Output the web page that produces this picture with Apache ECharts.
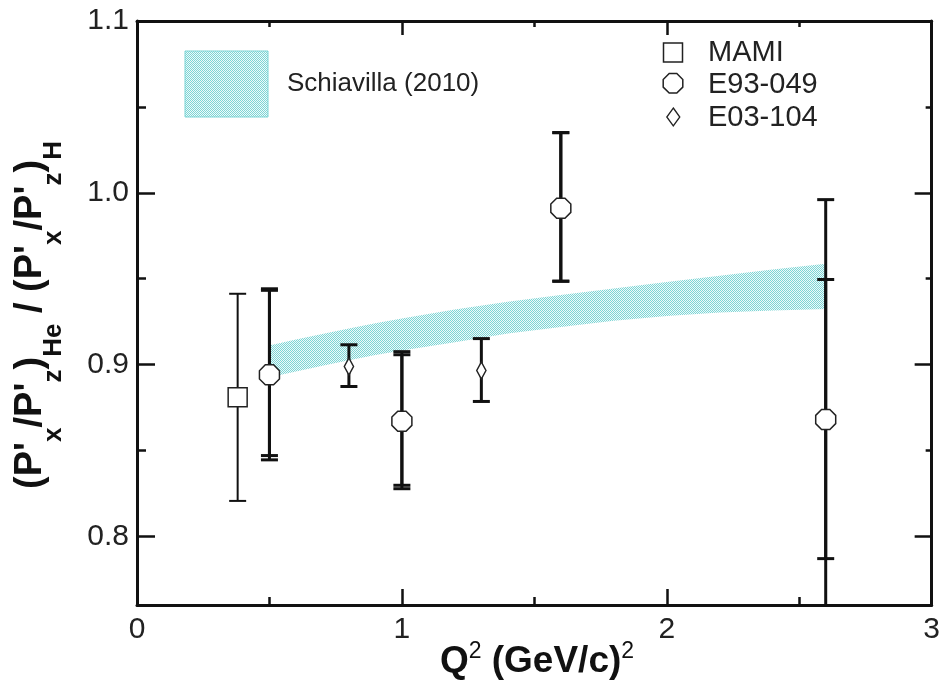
<!DOCTYPE html>
<html>
<head>
<meta charset="utf-8">
<script src="https://cdn.jsdelivr.net/npm/echarts@6/dist/echarts.min.js"></script>
<style>
  html, body { margin: 0; padding: 0; background: #fff; }
  #chart { width: 943px; height: 685px; }
</style>
</head>
<body>
<div id="chart"></div>
<script>
// Polarization-transfer ratio (P'x/P'z)He / (P'x/P'z)H versus Q^2 in (GeV/c)^2

// MAMI
const mamiQ2 = [0.38];
const mamiR = [0.881];
const mamiLo = [0.8206];
const mamiHi = [0.9412];

// E93-049: statistical and total uncertainty bounds
const e93Q2 = [0.5, 1.0, 1.6, 2.6];
const e93R = [0.894, 0.867, 0.991, 0.868];
const e93StatLo = [0.847, 0.8297, 0.9485, 0.787];
const e93StatHi = [0.9432, 0.9057, 1.035, 0.9495];
const e93TotLo = [0.8445, 0.8277, 0.9485, 0.740];
const e93TotHi = [0.9441, 0.9075, 1.035, 0.996];

// E03-104
const e03Q2 = [0.8, 1.3];
const e03R = [0.8988, 0.8965];
const e03Lo = [0.8872, 0.8785];
const e03Hi = [0.9115, 0.9151];

// Schiavilla (2010) calculation band
const bandQ2 = [0.5, 0.6, 0.7, 0.8, 0.9, 1.0, 1.2, 1.4, 1.6, 1.8, 2.0, 2.2, 2.4, 2.6];
const bandLo = [0.8926, 0.896, 0.8993, 0.9025, 0.9055, 0.9082, 0.913, 0.918, 0.9218, 0.9255, 0.9282, 0.9303, 0.9315, 0.9324];
const bandHi = [0.9111, 0.9145, 0.9178, 0.921, 0.924, 0.9268, 0.932, 0.9365, 0.9405, 0.9443, 0.948, 0.9517, 0.9553, 0.9587];

// Axis ticks
const xTicks = ['0', '1', '2', '3'];
const yMajor = [0.8, 0.9, 1.0, 1.1];
const yMinor = [0.85, 0.95, 1.05];

const FONT = '"Liberation Sans", Arial, Helvetica, sans-serif';
const INK = '#111';

// dithered cyan texture used for the theory band
const tex = document.createElement('canvas');
tex.width = 2; tex.height = 2;
const tg = tex.getContext('2d');
tg.fillStyle = '#eefafa'; tg.fillRect(0, 0, 2, 2);
tg.fillStyle = '#7dd5d5'; tg.fillRect(0, 0, 1, 1); tg.fillRect(1, 1, 1, 1);
const bandFill = { image: tex, repeat: 'repeat' };

const OCTAGON = 'path://M30.9,3.8 L69.1,3.8 L96.2,30.9 L96.2,69.1 L69.1,96.2 L30.9,96.2 L3.8,69.1 L3.8,30.9 Z';
const DIAMOND = 'path://M5,0 L10,7 L5,14 L0,7 Z';

function errorBars(xs, lo, hi, lineWidth, capWidth) {
  return {
    type: 'custom',
    clip: true,
    silent: true,
    z: 3,
    data: xs.map((x, i) => [x, lo[i], hi[i]]),
    encode: { x: 0, y: [1, 2] },
    renderItem(params, api) {
      const top = api.coord([api.value(0), api.value(2)]);
      const bot = api.coord([api.value(0), api.value(1)]);
      const h = capWidth / 2;
      const st = { stroke: INK, lineWidth: lineWidth };
      return {
        type: 'group',
        children: [
          { type: 'line', shape: { x1: top[0], y1: top[1], x2: bot[0], y2: bot[1] }, style: st },
          { type: 'line', shape: { x1: top[0] - h, y1: top[1], x2: top[0] + h, y2: top[1] }, style: st },
          { type: 'line', shape: { x1: bot[0] - h, y1: bot[1], x2: bot[0] + h, y2: bot[1] }, style: st }
        ]
      };
    }
  };
}

function markers(name, xs, ys, symbol, size) {
  return {
    type: 'scatter',
    name: name,
    z: 5,
    symbol: symbol,
    symbolSize: size,
    symbolKeepAspect: true,
    data: xs.map((x, i) => [x, ys[i]]),
    itemStyle: { color: '#fff', borderColor: '#222', borderWidth: 1.5, opacity: 1 }
  };
}

function yAxisDef(position, values, len, showLine, showLabel) {
  return {
    type: 'value',
    position: position,
    min: 0.76,
    max: 1.1,
    axisLine: { show: showLine, onZero: false, lineStyle: { color: INK, width: 3 } },
    axisTick: { show: true, inside: true, length: len, customValues: values, lineStyle: { color: INK, width: 2.5 } },
    axisLabel: {
      show: showLabel,
      customValues: values,
      formatter: v => v.toFixed(1),
      fontSize: 30,
      color: '#222',
      fontFamily: FONT,
      margin: 8
    },
    splitLine: { show: false }
  };
}

const chart = echarts.init(document.getElementById('chart'), null, { renderer: 'canvas' });

chart.setOption({
  animation: false,
  backgroundColor: '#fff',
  grid: { left: 137, right: 6, top: 21, bottom: 80 },
  xAxis: [
    {
      type: 'value', position: 'bottom', min: 0, max: 3, interval: 1,
      axisLine: { onZero: false, lineStyle: { color: INK, width: 3 } },
      axisTick: { inside: true, length: 16, lineStyle: { color: INK, width: 2.5 } },
      minorTick: { show: true, splitNumber: 2, length: 8, lineStyle: { color: INK, width: 2.5 } },
      axisLabel: {
        formatter: v => xTicks[Math.round(v)],
        fontSize: 30, color: '#222', fontFamily: FONT, margin: 10
      },
      splitLine: { show: false }, minorSplitLine: { show: false }
    },
    {
      type: 'value', position: 'top', min: 0, max: 3, interval: 1,
      axisLine: { onZero: false, lineStyle: { color: INK, width: 3 } },
      axisTick: { inside: true, length: 14, lineStyle: { color: INK, width: 2.5 } },
      minorTick: { show: true, splitNumber: 2, length: 6, lineStyle: { color: INK, width: 2.5 } },
      axisLabel: { show: false },
      splitLine: { show: false }, minorSplitLine: { show: false }
    }
  ],
  yAxis: [
    yAxisDef('left', yMajor, 18, true, true),
    yAxisDef('left', yMinor, 9, false, false),
    yAxisDef('right', yMajor, 17, true, false),
    yAxisDef('right', yMinor, 6, false, false)
  ],
  series: [
    {
      type: 'custom',
      name: 'Schiavilla (2010)',
      silent: true,
      clip: true,
      z: 1,
      data: [0],
      renderItem(params, api) {
        const pts = [];
        for (let i = 0; i < bandQ2.length; i++) pts.push(api.coord([bandQ2[i], bandHi[i]]));
        for (let i = bandQ2.length - 1; i >= 0; i--) pts.push(api.coord([bandQ2[i], bandLo[i]]));
        return { type: 'polygon', shape: { points: pts }, style: { fill: bandFill, stroke: null } };
      }
    },
    errorBars(mamiQ2, mamiLo, mamiHi, 2, 17),
    errorBars(e93Q2, e93TotLo, e93TotHi, 3, 17),
    errorBars(e93Q2, e93StatLo, e93StatHi, 3, 17),
    errorBars(e03Q2, e03Lo, e03Hi, 3, 17),
    markers('MAMI', mamiQ2, mamiR, 'rect', 19),
    markers('E93-049', e93Q2, e93R, OCTAGON, 20),
    markers('E03-104', e03Q2, e03R, DIAMOND, [13, 17])
  ],
  graphic: [
    // axis titles
    {
      type: 'text', x: 537, y: 662, z: 10,
      style: {
        text: '{m|Q}{s|2}{m| (GeV/c)}{s|2}',
        align: 'center', verticalAlign: 'middle',
        rich: {
          m: { fontSize: 37, fontWeight: 'bold', fontFamily: FONT, fill: '#111', lineHeight: 44, verticalAlign: 'middle' },
          s: { fontSize: 23, fontFamily: FONT, fill: '#111', lineHeight: 22, verticalAlign: 'top' }
        }
      }
    },
    {
      type: 'text', x: 31, y: 315, rotation: Math.PI / 2, z: 10,
      style: {
        text: "{m|(P'}{s|x}{m|/P'}{s|z}{m|)}{s|He}{m| / (P'}{s|x}{m|/P'}{s|z}{m|)}{s|H}",
        align: 'center', verticalAlign: 'middle',
        rich: {
          m: { fontSize: 38, fontWeight: 'bold', fontFamily: FONT, fill: '#111', lineHeight: 72, verticalAlign: 'middle' },
          s: { fontSize: 26, fontWeight: 'bold', fontFamily: FONT, fill: '#111', lineHeight: 26, verticalAlign: 'bottom' }
        }
      }
    },
    // theory band key
    {
      type: 'rect', z: 10,
      shape: { x: 185, y: 51, width: 83, height: 66 },
      style: { fill: bandFill, stroke: '#7dd5d5', lineWidth: 1 }
    },
    {
      type: 'text', x: 287, y: 84, z: 10,
      style: { text: 'Schiavilla (2010)', fontSize: 26, fontFamily: FONT, fill: '#222', verticalAlign: 'middle' }
    },
    // data key
    {
      type: 'rect', z: 10,
      shape: { x: 663.5, y: 43, width: 19, height: 19 },
      style: { fill: '#fff', stroke: '#222', lineWidth: 1.5 }
    },
    {
      type: 'polygon', z: 10,
      shape: { points: [[669.2, 73.5], [676.8, 73.5], [682.8, 79.5], [682.8, 87.1], [676.8, 93.1], [669.2, 93.1], [663.2, 87.1], [663.2, 79.5]] },
      style: { fill: '#fff', stroke: '#222', lineWidth: 1.5 }
    },
    {
      type: 'polygon', z: 10,
      shape: { points: [[673.3, 108], [679.8, 117], [673.3, 126], [666.8, 117]] },
      style: { fill: '#fff', stroke: '#222', lineWidth: 1.3 }
    },
    {
      type: 'text', x: 708, y: 53, z: 10,
      style: { text: 'MAMI', fontSize: 29, fontFamily: FONT, fill: '#222', verticalAlign: 'middle' }
    },
    {
      type: 'text', x: 708, y: 84.5, z: 10,
      style: { text: 'E93-049', fontSize: 29, fontFamily: FONT, fill: '#222', verticalAlign: 'middle' }
    },
    {
      type: 'text', x: 708, y: 117.5, z: 10,
      style: { text: 'E03-104', fontSize: 29, fontFamily: FONT, fill: '#222', verticalAlign: 'middle' }
    }
  ]
});
</script>
</body>
</html>
